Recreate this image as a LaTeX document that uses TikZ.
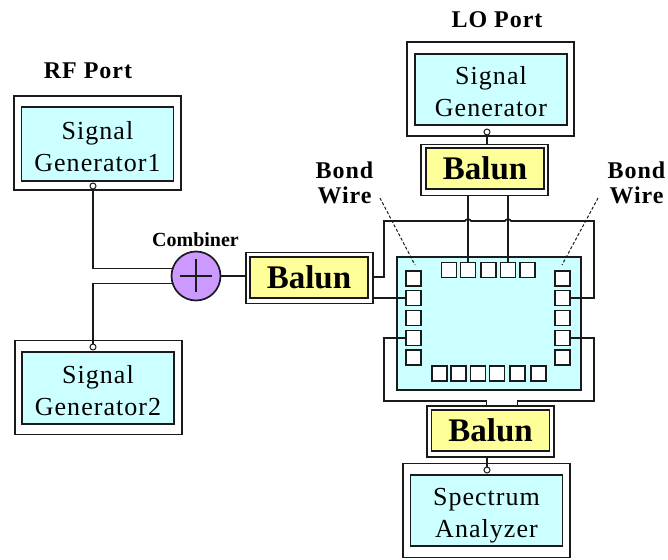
\documentclass[tikz,border=0pt]{standalone}
\usepackage{fontspec}
\setmainfont{Liberation Serif}
\newfontfamily\gapserif[LetterSpace=4]{Liberation Serif}
\usetikzlibrary{positioning, arrows.meta}
\definecolor{mChipCyan}{HTML}{CCFFFF}
\definecolor{mBalunYellow}{HTML}{FFFF99}
\definecolor{mCombPurple}{HTML}{CC99FF}
\definecolor{mWire}{HTML}{1A1A1A}

\begin{document}
\begin{tikzpicture}[
  x=1pt, y=-1pt,
  line width=1.7pt,
  wire/.style={draw=mWire, line width=1.7pt},
  leader/.style={draw=mWire, line width=1pt, densely dashed},
  genframe/.style={
    draw=mWire,
    fill=white,
    minimum width=167pt,
    minimum height=94pt,
    inner sep=0pt
  },
  genbox/.style={
    draw=mWire,
    fill=mChipCyan,
    minimum width=152pt,
    minimum height=71pt,
    inner sep=0pt
  },
  gentext/.style={
    inner sep=0pt,
    align=center,
    font=\gapserif\fontsize{26}{32}\selectfont
  },
  balunframe/.style={
    draw=mWire,
    fill=white,
    minimum width=127pt,
    minimum height=51pt,
    inner sep=0pt
  },
  balunbox/.style={
    draw=mWire,
    fill=mBalunYellow,
    minimum width=118pt,
    minimum height=41pt,
    inner sep=0pt,
    font=\bfseries\fontsize{33}{33}\selectfont
  },
  padbox/.style={
    draw=mWire,
    fill=white,
    minimum width=15pt,
    minimum height=15pt,
    inner sep=0pt
  },
  pin/.style={
    circle,
    draw=mWire,
    fill=white,
    line width=1pt,
    minimum size=6pt,
    inner sep=0pt
  },
  caption/.style={
    inner sep=0pt,
    align=center,
    font=\gapserif\bfseries\fontsize{24}{25}\selectfont
  }
]

\useasboundingbox (0,0) rectangle (668,559);

\node[genframe] (gen1Frame) at (97.5,143) {};
\node[genbox, minimum height=74pt] (gen1) at (97.5,144) {};
\node[gentext, yshift=-3pt] (gen1Text) at (gen1) {Signal\\Generator1};
\node[genframe] (gen2Frame) at (98.5,387.5) {};
\node[genbox, minimum height=72pt] (gen2) at (98,388) {};
\node[gentext, yshift=-3pt] (gen2Text) at (gen2) {Signal\\Generator2};
\node[genframe] (loFrame) at (490.5,89) {};
\node[genbox] (loGen) at (491,89.5) {};
\node[gentext, yshift=-2pt] (loText) at (loGen) {Signal\\Generator};
\node[genframe] (specFrame) at (486.5,510.5) {};
\node[genbox] (specAn) at (486.5,510.5) {};
\node[gentext, yshift=-5pt] (specText) at (specAn) {Spectrum\\Analyzer};

\node[balunframe] (balunLFrame) at (309.5,278) {};
\node[balunbox] (balunL) at (309,277.5) {Balun};
\node[balunframe] (balunTFrame) at (484.5,170) {};
\node[balunbox] (balunT) at (485,168.5) {Balun};
\node[balunframe] (balunBFrame) at (490.5,431.5) {};
\node[balunbox] (balunB) at (490.5,430.5) {Balun};

\node[draw=mWire, fill=mChipCyan, minimum width=184pt, minimum height=133pt, inner sep=0pt] (chip) at (489,323.5) {};

\foreach \idx/\ypos in {1/278.5, 2/298, 3/318, 4/338, 5/357.5} {
  \node[padbox] (padL\idx) at (413.5,\ypos) {};
  \node[padbox] (padR\idx) at (562.5,\ypos) {};
}
\foreach \idx/\xpos in {1/449, 2/468, 3/488.5, 4/508, 5/527.5} {
  \node[padbox] (padT\idx) at (\xpos,270) {};
}
\foreach \idx/\xpos in {1/439.5, 2/458.5, 3/478, 4/497, 5/517.5, 6/538.5} {
  \node[padbox] (padB\idx) at (\xpos,373.5) {};
}

\node[circle, draw=mWire, fill=mCombPurple, minimum size=49pt, inner sep=0pt] (combiner) at (196,276) {};
\draw[wire, line width=1.2pt] (combiner.center) +(-16,0) -- +(16,0);
\draw[wire, line width=1.2pt] (combiner.center) +(0,-17) -- +(0,16);

\node[pin] (gen1Pin) at (93,186) {};
\node[pin] (gen2Pin) at (93,347) {};
\node[pin] (loPin) at (487,132) {};
\node[pin] (specPin) at (487,470) {};

\draw[wire] (gen1Pin) |- (combiner.163);
\draw[wire] (gen2Pin) |- (combiner.197);
\draw[wire] (combiner) -- (combiner -| balunLFrame.west);
\draw[wire] (loPin) -- (loPin |- balunTFrame.north);
\draw[wire] (specPin |- balunBFrame.south) -- (specPin);

\coordinate (loopL) at (384,221);
\coordinate (loopR) at (594,221);
\coordinate (hopA) at (padT2 |- loopL);
\coordinate (hopB) at (padT4 |- loopL);
\coordinate (lowL) at (384,401);
\coordinate (lowR) at (594,401);
\coordinate (stubA) at (balunLFrame.east |- 0,277);

\draw[wire] (stubA) -- (stubA -| loopL) -- (loopL)
  -- ([xshift=-3pt]hopA) to[bend left=80] ([xshift=3pt]hopA)
  -- ([xshift=-3pt]hopB) to[bend left=80] ([xshift=3pt]hopB)
  -- (loopR) |- (padR2.east);
\draw[wire] (balunLFrame.east |- padL2) -- (padL2.west);
\draw[wire] (balunTFrame.south -| padT2) -- (padT2.north);
\draw[wire] (balunTFrame.south -| padT4) -- (padT4.north);
\draw[wire] (padL4.west) -| (lowL) -- (lowL -| padB3.east) -- (padB3.east |- balunBFrame.north);
\draw[wire] (padR4.east) -| (lowR) -- (lowR -| padB5) -- (padB5 |- balunBFrame.north);

\coordinate (bondLa) at (380,198);
\coordinate (bondLb) at (415,265);
\coordinate (bondRa) at (598,198);
\coordinate (bondRb) at (562,265);
\draw[leader] (bondLa) -- (bondLb);
\draw[leader] (bondRa) -- (bondRb);

\node[caption] (rfLabel) at (88,71) {RF Port};
\node[caption] (loLabel) at (497,20) {LO Port};
\node[caption] (bondL) at (344.5,183) {Bond\\Wire};
\node[caption] (bondR) at (636.5,183) {Bond\\Wire};
\node[inner sep=0pt, font=\bfseries\fontsize{20}{20}\selectfont] (combLabel) at (195.5,240) {Combiner};

\end{tikzpicture}
\end{document}
